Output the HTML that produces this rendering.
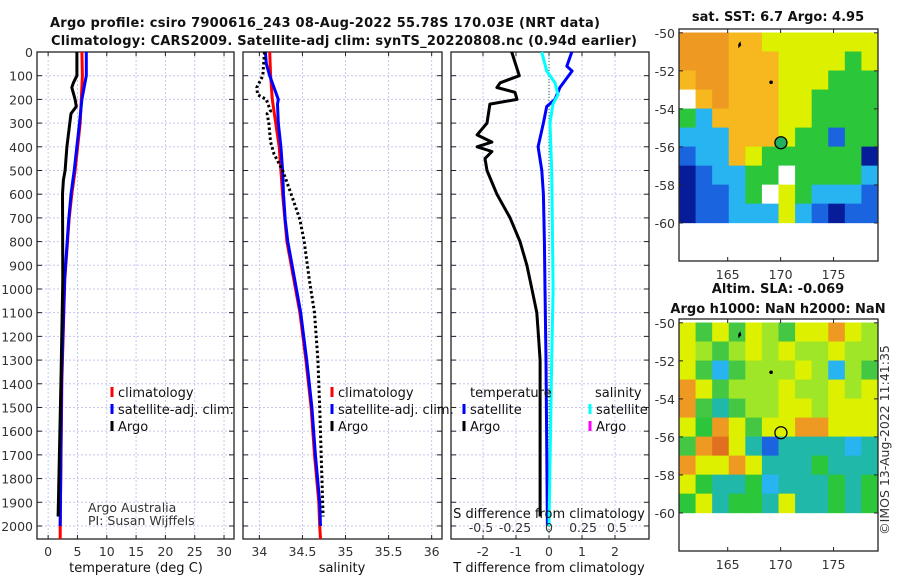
<!DOCTYPE html>
<html><head><meta charset="utf-8"><style>
body{margin:0;background:#fff;}
svg{display:block;font-family:"DejaVu Sans","Liberation Sans",sans-serif;}
.tk{font-size:12.5px;fill:#333;}
.ttl{font-size:13px;font-weight:bold;fill:#111;}
.lg{font-size:13px;fill:#111;}
</style></head><body>
<svg id="fig" width="900" height="580" viewBox="0 0 900 580">
<text class="ttl" x="325" y="27" text-anchor="middle" textLength="550">Argo profile: csiro 7900616_243 08-Aug-2022 55.78S 170.03E (NRT data)</text>
<text class="ttl" x="344" y="45" text-anchor="middle" textLength="586">Climatology: CARS2009. Satellite-adj clim: synTS_20220808.nc (0.94d earlier)</text>
<g id="g1"></g>
<g id="g2"></g>
<g id="g3"></g>
<g id="m1"></g>
<g id="m2"></g>
<text class="tk" transform="translate(889,440) rotate(-90)" text-anchor="middle">©IMOS 13-Aug-2022 11:41:35</text>
</svg>
<script>
// ---- data ----
const depthTicks=[0,100,200,300,400,500,600,700,800,900,1000,1100,1200,1300,1400,1500,1600,1700,1800,1900,2000];
const tTicks=[0,5,10,15,20,25,30];
const sTicks=[34,34.5,35,35.5,36];
const dTicks=[-2,-1,0,1,2];
const sdTicks=[-0.5,-0.25,0,0.25,0.5];
const sdTickLabels=["-0.5","-0.25","0","0.25","0.5"];
const climTD=[0,100,300,500,600,700,960,1380,2000,2055];
const climT=[5.75,5.85,5.46,4.6,4.04,3.6,2.85,2.35,2.05,2.05];
const satTD=[0,100,200,300,500,600,707,960,1380,2000];
const satT=[6.5,6.5,5.75,5.35,4.45,3.9,3.5,2.8,2.3,2.05];
const argoTD=[0,100,130,150,200,230,260,300,400,500,540,600,960,1380,1960];
const argoT=[4.9,4.9,4.3,4.04,4.6,4.8,3.9,3.7,3.2,2.9,2.6,2.45,2.5,2.2,1.7];
const climSD=[0,100,200,300,400,500,600,800,960,1100,1300,1500,1700,1900,2000,2055];
const climS=[34.12,34.13,34.15,34.19,34.23,34.25,34.27,34.32,34.40,34.47,34.54,34.60,34.64,34.69,34.70,34.71];
const satSD=[0,50,100,150,200,220,300,400,500,600,707,800,960,1100,1300,1500,1700,1900,2000];
const satS=[34.07,34.08,34.12,34.17,34.22,34.21,34.22,34.25,34.27,34.28,34.30,34.33,34.41,34.48,34.55,34.61,34.65,34.70,34.71];
const argoSD=[0,100,150,180,200,250,260,300,380,430,500,540,600,707,800,960,1100,1300,1500,1960];
const argoS=[34.06,34.04,33.97,33.98,34.08,34.13,34.09,34.11,34.13,34.17,34.27,34.31,34.37,34.47,34.52,34.58,34.64,34.68,34.70,34.74];
const dArgoTD=[0,100,130,150,170,200,220,300,350,380,400,420,450,500,600,700,800,900,1000,1100,1200,1300,1960];
const dArgoT=[-1.13,-0.9,-1.48,-1.58,-1.03,-0.97,-1.79,-1.88,-2.18,-1.73,-2.18,-1.73,-1.94,-1.88,-1.58,-1.18,-0.88,-0.67,-0.52,-0.37,-0.32,-0.27,-0.27];
const dSatTD=[0,60,80,150,200,230,300,400,500,600,800,1000,1300,2000];
const dSatT=[0.69,0.54,0.7,0.33,0.18,-0.07,-0.17,-0.33,-0.22,-0.17,-0.14,-0.12,-0.09,-0.05];
const dSatSD=[0,80,130,180,220,300,500,1000,1300,2000];
const dSatS=[-0.054,-0.017,0.044,0.066,0.029,0.007,0.02,0.03,0.02,0.0];
const mapLonTicks=[165,170,175];
const mapLatTicks=[-50,-52,-54,-56,-58,-60];
const sstGrid=["OOOooYYYYYYY","OOOoooYYYYGY","oOOoooYYYGGG","WoOoooYYGGGG","GCooooYYGGGG","CCCoooYGGBGG","BCCoYGGGGGGN","NBCCGGWGGGGC","NBBCGWYGCCCB","NBBCCCYCBNBB"];
const slaGrid=["YgYgYLgYYOYL","YLgLYLYLLYLL","YgCgLLLYLCLg","OYgLLLYLLYLY","OgTgLLYYLYYY","YGOYgYYOOYYY","gORYTBTTTTCT","OYYOYTTTGTTT","YGTTGCTTTGTG","GYTGGTYTTGTG"];
const argoLon=170.03, argoLat=-55.78;
// ---- helpers ----
const NS="http://www.w3.org/2000/svg";
function mk(p,t,a){const e=document.createElementNS(NS,t);for(const k in a)e.setAttribute(k,a[k]);p.appendChild(e);return e;}
const Y0=52,Y1=539,DMAX=2055;
const yD=d=>Y0+(Y1-Y0)*d/DMAX;
function panel(g,x0,x1,vmin,vmax,ticks,labels,showY,name){
  const xs=v=>x0+(x1-x0)*(v-vmin)/(vmax-vmin);
  ticks.forEach((t,i)=>{const gl=mk(g,'line',{x1:xs(t),x2:xs(t),y1:Y0,y2:Y1,stroke:'#c4c8ec','stroke-dasharray':'2,2','stroke-width':1});
    
    mk(g,'line',{x1:xs(t),x2:xs(t),y1:Y1,y2:Y1-4,stroke:'#222'});mk(g,'line',{x1:xs(t),x2:xs(t),y1:Y0,y2:Y0+4,stroke:'#222'});
    const tx=mk(g,'text',{x:xs(t),y:Y1+17,'text-anchor':'middle',class:'tk'});tx.textContent=labels[i];
    });
  depthTicks.forEach(d=>{const gl=mk(g,'line',{x1:x0,x2:x1,y1:yD(d),y2:yD(d),stroke:'#c4c8ec','stroke-dasharray':'2,2'});
    
    mk(g,'line',{x1:x0,x2:x0+5,y1:yD(d),y2:yD(d),stroke:'#222'});mk(g,'line',{x1:x1-5,x2:x1,y1:yD(d),y2:yD(d),stroke:'#222'});
    if(showY){const tx=mk(g,'text',{x:x0-4,y:yD(d)+5,'text-anchor':'end',class:'tk'});tx.textContent=d;
      }});
  const r=mk(g,'rect',{x:x0,y:Y0,width:x1-x0,height:Y1-Y0,fill:'none',stroke:'#222','stroke-width':1.3});
  
  return xs;
}
function line(g,xs,ds,vs,col,w,dash,name){
  const pts=ds.map((d,i)=>xs(vs[i]).toFixed(1)+','+yD(d).toFixed(1)).join(' ');
  const a={points:pts,fill:'none',stroke:col,'stroke-width':w,'stroke-linejoin':'round'};if(dash)a['stroke-dasharray']=dash;
  const p=mk(g,'polyline',a);
}
function txt(g,x,y,s,cls,anchor,name){const t=mk(g,'text',{x:x,y:y,class:cls,'text-anchor':anchor||'start'});t.textContent=s;
  return t;}
function legend(g,x,y,items,name){items.forEach((it,i)=>{
  const m=mk(g,'line',{x1:x,x2:x,y1:y+i*17-10,y2:y+i*17,stroke:it[1],'stroke-width':3});
  
  txt(g,x+6,y+i*17,it[0],'lg','start',name+'-entry');});}
// panel 1
const g1=document.getElementById('g1');
const x1s=panel(g1,37,234,-1.9,31.7,tTicks,tTicks.map(String),true,'temperature');
line(g1,x1s,climTD,climT,'#f00',3,null,'temperature-climatology-line');
line(g1,x1s,satTD,satT,'#00f',3,null,'temperature-satellite-line');
line(g1,x1s,argoTD,argoT,'#000',3,null,'temperature-argo-line');
legend(g1,112,397,[['climatology','#f00'],['satellite-adj. clim.','#00f'],['Argo','#000']],'temperature-legend');
txt(g1,88,512,'Argo Australia','tk','start','argo-australia-label');
txt(g1,88,525,'PI: Susan Wijffels','tk','start','pi-label');
txt(g1,136,572,'temperature (deg C)','lg','middle','temperature-axis-title');
// panel 2
const g2=document.getElementById('g2');
const x2s=panel(g2,243,442,33.81,36.12,sTicks,['34','34.5','35','35.5','36'],false,'salinity');
line(g2,x2s,climSD,climS,'#f00',3,null,'salinity-climatology-line');
line(g2,x2s,satSD,satS,'#00f',3,null,'salinity-satellite-line');
line(g2,x2s,argoSD,argoS,'#000',3,'2.5,2.5','salinity-argo-line');
legend(g2,332,397,[['climatology','#f00'],['satellite-adj. clim.','#00f'],['Argo','#000']],'salinity-legend');
txt(g2,342,572,'salinity','lg','middle','salinity-axis-title');
// panel 3
const g3=document.getElementById('g3');
const x3s=panel(g3,451,649,-2.97,3.03,dTicks,dTicks.map(String),false,'difference');
const sds=v=>549+136*v;
mk(g3,'line',{x1:x3s(0),x2:x3s(0),y1:Y0,y2:Y1,stroke:'#264',"stroke-dasharray":'1,2'});
line(g3,x3s,dArgoTD,dArgoT,'#000',3,null,'t-diff-argo-line');
line(g3,x3s,dSatTD,dSatT,'#00f',3,null,'t-diff-satellite-line');
line(g3,v=>sds(v),dSatSD,dSatS,'#0ff',3,null,'s-diff-satellite-line');
txt(g3,470,397,'temperature','lg','start','t-legend-header');
legend(g3,464,414,[['satellite','#00f'],['Argo','#000']],'t-diff-legend');
txt(g3,595,397,'salinity','lg','start','s-legend-header');
legend(g3,590,414,[['satellite','#0ff'],['Argo','#f0f']],'s-diff-legend');
txt(g3,549,518,'S difference from climatology','lg','middle','s-diff-axis-title');
sdTicks.forEach((t,i)=>txt(g3,sds(t),532,sdTickLabels[i],'tk','middle','s-diff-tick-label'));
txt(g3,549,572,'T difference from climatology','lg','middle','t-diff-axis-title');
// maps
const pal={O:'#ee9a22',o:'#f6b81e',Y:'#dcf000',G:'#2cc63a',g:'#44c844',C:'#28b4f0',B:'#1a64e0',N:'#061c98',W:'#ffffff',L:'#a0e628',T:'#20b8a8',R:'#e07020'};
function map(id,top,bot,grid,title1,title2,filled){
  const g=document.getElementById(id);const X0=679,X1=878;
  const lx=l=>X0+(X1-X0)*(l-160.4)/(179.2-160.4);
  const ly=l=>top+(bot-top)*(l-(-49.8))/(-62-(-49.8));
  const rows=grid.length,cols=grid[0].length;
  for(let r=0;r<rows;r++)for(let c=0;c<cols;c++){
    const lo=160.4+c*(179.2-160.4)/cols, la=-50+(-r);
    const cell=mk(g,'rect',{x:lx(lo),y:ly(la)-0.3,width:(X1-X0)/cols+0.5,height:ly(la-1)-ly(la)+0.5,fill:pal[grid[r][c]]});
    }
  mk(g,'path',{d:`M${lx(166)},${ly(-50.6)} l2,-3 l1,4 l-3,3 z`,fill:'#000'});
  mk(g,'circle',{cx:lx(169.1),cy:ly(-52.6),r:1.8,fill:'#000'});
  const c=mk(g,'circle',{cx:lx(argoLon),cy:ly(argoLat),r:6,fill:filled?'#20b060':'none',stroke:'#000','stroke-width':1.3});
  
  mk(g,'rect',{x:X0,y:top,width:X1-X0,height:bot-top,fill:'none',stroke:'#222','stroke-width':1.3});
  mapLatTicks.forEach(l=>{mk(g,'line',{x1:X0,x2:X0+4,y1:ly(l),y2:ly(l),stroke:'#222'});mk(g,'line',{x1:X1,x2:X1-4,y1:ly(l),y2:ly(l),stroke:'#222'});
    txt(g,X0-4,ly(l)+5,String(l),'tk','end','map-lat-tick-label');});
  mapLonTicks.forEach(l=>{mk(g,'line',{x1:lx(l),x2:lx(l),y1:bot,y2:bot-4,stroke:'#222'});mk(g,'line',{x1:lx(l),x2:lx(l),y1:top,y2:top+4,stroke:'#222'});
    txt(g,lx(l),bot+18,String(l),'tk','middle','map-lon-tick-label');});
  if(title1)txt(g,778,top-(title2?26:8),title1,'ttl','middle','map-title');
  if(title2)txt(g,778,top-6,title2,'ttl','middle','map-subtitle');
}
map('m1',29,261,sstGrid,'sat. SST: 6.7 Argo: 4.95',null,true);
map('m2',319,551,slaGrid,'Altim. SLA: -0.069','Argo h1000: NaN h2000: NaN',false);
</script>
</body></html>
